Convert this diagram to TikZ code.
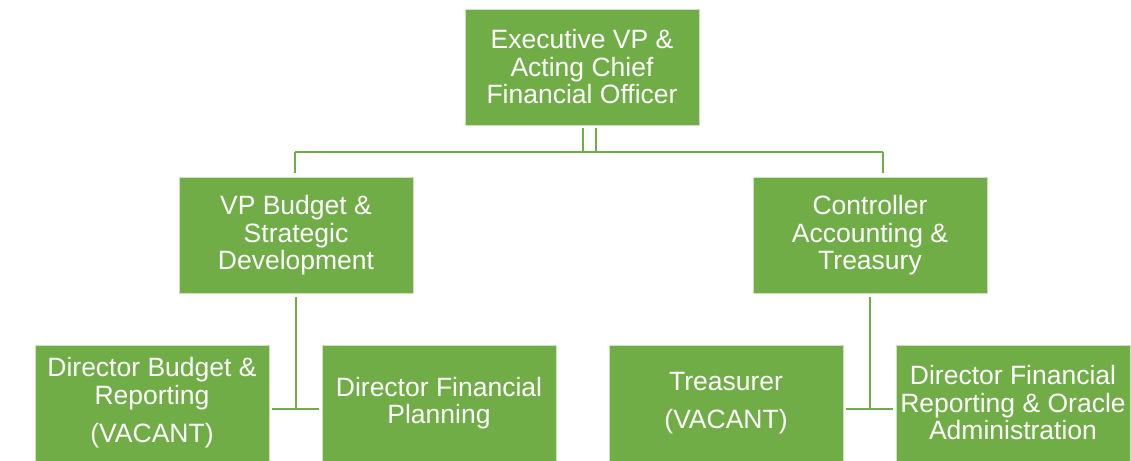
\documentclass[tikz,border=0pt]{standalone}
\usepackage{fontspec}
\setmainfont{Liberation Sans}
\definecolor{boxgreen}{HTML}{70AD47}
\begin{document}
\begin{tikzpicture}[x=1pt,y=-1pt,
    every node/.style={rectangle,fill=boxgreen,draw=boxgreen!35,line width=0.8pt,
        text=white,minimum width=234pt,minimum height=116pt,align=center,
        font=\fontsize{26.5}{27.5}\selectfont},
    link/.style={draw=boxgreen,line width=2.6pt}]
    \useasboundingbox (0,0) rectangle (1131,460);

    \node (cfo) at (582,67) {Executive VP \&\\Acting Chief\\Financial Officer};

    \node (vpb) at (296,235.5) {VP Budget \&\\Strategic\\Development};
    \node (ctl) at (870,235.5) {Controller\\Accounting \&\\Treasury};

    \node (dbr) at (152,403) {Director Budget \&\\Reporting\\[11pt](VACANT)};
    \node (dfp) at (439,403) {Director Financial\\Planning};
    \node (tre) at (726,403) {Treasurer\\[10pt](VACANT)};
    \node (dfr) at (1013,403) {Director Financial\\Reporting \& Oracle\\Administration};

    % bus under the top box
    \coordinate (busl) at (295,152);
    \coordinate (busr) at (883,152);
    \coordinate (bus1) at (583,152);
    \coordinate (bus2) at (596,152);
    \draw[link] (busl) -- (busr);
    \draw[link,shorten <=3pt] (cfo.south -| bus1) -- (bus1);
    \draw[link,shorten <=3pt] (cfo.south -| bus2) -- (bus2);
    \draw[link,shorten >=4pt] (busl) -- (busl |- vpb.north);
    \draw[link,shorten >=4pt] (busr) -- (busr |- ctl.north);

    % left branch
    \coordinate (tl) at (296,409);
    \draw[link,shorten <=3pt] (vpb.south) -- (tl);
    \draw[link,shorten <=3pt,shorten >=3pt] (dbr.east |- tl) -- (dfp.west |- tl);

    % right branch
    \coordinate (tr) at (870,409);
    \draw[link,shorten <=3pt] (ctl.south) -- (tr);
    \draw[link,shorten <=3pt,shorten >=3pt] (tre.east |- tr) -- (dfr.west |- tr);
\end{tikzpicture}
\end{document}
